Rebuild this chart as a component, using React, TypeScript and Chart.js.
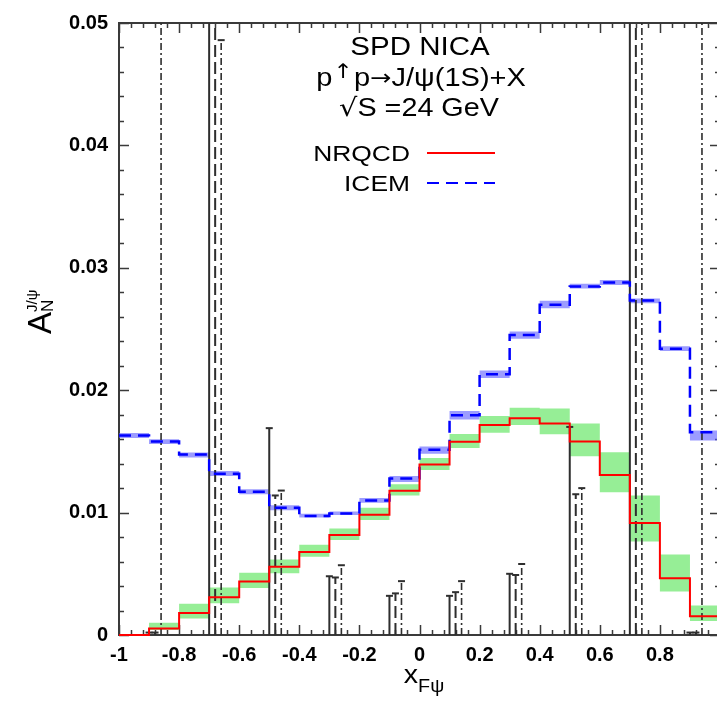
import React, { useEffect, useRef } from "react";
import { Chart, registerables } from "chart.js";

Chart.register(...registerables);

// ---------- data ----------
const binEdges = [-1, -0.9, -0.8, -0.7, -0.6, -0.5, -0.4, -0.3, -0.2, -0.1, 0, 0.1, 0.2, 0.3, 0.4, 0.5, 0.6, 0.7, 0.8, 0.9, 1];

const nrqcd = [0, 0.00053, 0.0018, 0.00308, 0.00437, 0.00557, 0.00678, 0.00817, 0.00983, 0.01179, 0.01393, 0.01578, 0.01715, 0.01771, 0.01728, 0.01581, 0.01308, 0.00916, 0.00464, 0.00153];
const nrqcdLow = [0, 0.0004, 0.00134, 0.0026, 0.00383, 0.00504, 0.0064, 0.00777, 0.0094, 0.01139, 0.01348, 0.01527, 0.01653, 0.01715, 0.0164, 0.0146, 0.01166, 0.00764, 0.00356, 0.00115];
const nrqcdHigh = [0, 0.001, 0.00255, 0.00388, 0.00509, 0.00617, 0.00737, 0.0087, 0.0104, 0.01232, 0.01447, 0.01642, 0.0179, 0.01857, 0.0185, 0.01728, 0.01493, 0.01139, 0.00657, 0.00241];

const icem = [0.0163, 0.0158, 0.01474, 0.01318, 0.01171, 0.0104, 0.00973, 0.00992, 0.01099, 0.01278, 0.01514, 0.01795, 0.0213, 0.0245, 0.02698, 0.02848, 0.0288, 0.02733, 0.02339, 0.01656];
const icemLow = [0.0161, 0.0156, 0.0145, 0.013, 0.0115, 0.0102, 0.0096, 0.0098, 0.0108, 0.0125, 0.0148, 0.0176, 0.021, 0.0242, 0.0267, 0.0283, 0.0286, 0.0271, 0.0232, 0.0159];
const icemHigh = [0.0165, 0.016, 0.0149, 0.0134, 0.0119, 0.0106, 0.0099, 0.0101, 0.0112, 0.013, 0.0154, 0.0183, 0.0216, 0.0248, 0.0273, 0.0287, 0.029, 0.0275, 0.0236, 0.0167];

const xSolid = [-0.9, -0.7, -0.5, -0.3, -0.1, 0.1, 0.3, 0.5, 0.7, 0.9];
const errSolid = [0.0002, 0.06, 0.0169, 0.0048, 0.0032, 0.0032, 0.005, 0.017, 0.06, 0.0002];
const xDashed = [-0.88, -0.68, -0.48, -0.28, -0.08, 0.12, 0.32, 0.52, 0.72, 0.92];
const errDashed = [0.0002, 0.06, 0.0114, 0.0047, 0.0034, 0.0035, 0.0049, 0.0115, 0.06, 0.0002];
const xDashDot = [-0.86, -0.66, -0.46, -0.26, -0.06, 0.14, 0.34, 0.54, 0.74, 0.94];
const errDashDot = [0.06, 0.0486, 0.0118, 0.0057, 0.0044, 0.0044, 0.0058, 0.012, 0.06, 0.06];

const titleLines = ["SPD NICA", "J/ψ(1S)+X", "S =24 GeV"];
const seriesNames = ["NRQCD", "ICEM"];

// ---------- styles ----------
const FONT = '"Liberation Sans", Arial, Helvetica, sans-serif';
const SYM = '"DejaVu Sans", sans-serif';
const RED = "#ff0000";
const BLUE = "#0000ff";
const GREEN_BAND = "rgb(150,238,150)";
const BLUE_BAND = "rgba(90,90,255,0.6)";
const BLACK = "#2e2e2e";
const DASHED = [12, 5];
const DASHDOT = [7, 3, 2, 3];

function steps(vals: number[]) {
  const pts = vals.map((v, i) => ({ x: binEdges[i], y: v }));
  pts.push({ x: binEdges[binEdges.length - 1], y: vals[vals.length - 1] });
  return pts;
}

function errPoints(xs: number[], tops: number[]) {
  const pts: { x: number; y: number | null }[] = [];
  xs.forEach((x, i) => {
    pts.push({ x, y: 0 });
    pts.push({ x, y: tops[i] });
    pts.push({ x, y: null });
  });
  return pts;
}

function errDataset(xs: number[], tops: number[], dash: number[], width: number) {
  return {
    data: errPoints(xs, tops),
    borderColor: BLACK,
    borderWidth: width,
    borderDash: dash,
    pointStyle: "line",
    pointRadius: (c: any) => (c.dataIndex % 3 === 1 ? 3.5 : 0),
    pointBorderColor: BLACK,
    pointBorderWidth: 2,
    pointBackgroundColor: BLACK,
    fill: false,
    spanGaps: false,
    order: 1,
  };
}

type Part = { t: string; size: number; dy?: number; dx?: number; family?: string };

function drawRich(ctx: CanvasRenderingContext2D, parts: Part[], align: "left" | "center" | "right", sx: number) {
  const widths = parts.map((p) => {
    ctx.font = `${p.size}px ${p.family || FONT}`;
    return ctx.measureText(p.t).width + (p.dx || 0);
  });
  const w = widths.reduce((a, b) => a + b, 0);
  ctx.save();
  ctx.scale(sx, 1);
  let cx = align === "center" ? -w / 2 : align === "right" ? -w : 0;
  ctx.textAlign = "left";
  ctx.textBaseline = "alphabetic";
  parts.forEach((p, i) => {
    ctx.font = `${p.size}px ${p.family || FONT}`;
    ctx.fillText(p.t, cx + (p.dx || 0), p.dy || 0);
    cx += widths[i];
  });
  ctx.restore();
}

const decorPlugin = {
  id: "decor",
  beforeDatasetsDraw(chart: any) {
    const { ctx, chartArea: a, scales } = chart;
    const xs = scales.x;
    const ys = scales.y;
    ctx.save();
    ctx.strokeStyle = "#3a3a3a";
    ctx.lineWidth = 2;
    ctx.strokeRect(a.left, a.top, a.right - a.left, a.bottom - a.top);
    ctx.lineWidth = 1.5;
    ctx.beginPath();
    for (let i = 0; i <= 50; i++) {
      const v = -1 + i * 0.04;
      const px = Math.round(xs.getPixelForValue(v)) + 0.5;
      const len = i % 5 === 0 ? 10 : 5;
      ctx.moveTo(px, a.bottom);
      ctx.lineTo(px, a.bottom - len);
      ctx.moveTo(px, a.top);
      ctx.lineTo(px, a.top + len);
    }
    for (let i = 0; i <= 25; i++) {
      const v = i * 0.002;
      const py = Math.round(ys.getPixelForValue(v)) + 0.5;
      const len = i % 5 === 0 ? 10 : 5;
      ctx.moveTo(a.left, py);
      ctx.lineTo(a.left + len, py);
      ctx.moveTo(a.right, py);
      ctx.lineTo(a.right - len, py);
    }
    ctx.stroke();
    ctx.restore();
  },
  afterDraw(chart: any) {
    const { ctx } = chart;
    ctx.save();
    ctx.fillStyle = "#000";
    // title block
    ctx.save();
    ctx.translate(420, 55);
    drawRich(ctx, [{ t: titleLines[0], size: 25 }], "center", 1.18);
    ctx.restore();
    ctx.save();
    ctx.translate(421, 86);
    drawRich(
      ctx,
      [
        { t: "p", size: 25 },
        { t: "↑", size: 20, dy: -8, dx: 1, family: SYM },
        { t: "p", size: 25, dx: 1 },
        { t: "→", size: 22, family: SYM, dy: -1 },
        { t: titleLines[1], size: 25 },
      ],
      "center",
      1.16
    );
    ctx.restore();
    ctx.save();
    ctx.translate(419, 116);
    drawRich(ctx, [{ t: "√", size: 25, family: SYM }, { t: titleLines[2], size: 25 }], "center", 1.15);
    ctx.restore();

    // legend
    ctx.save();
    ctx.translate(410, 161);
    drawRich(ctx, [{ t: seriesNames[0], size: 22 }], "right", 1.2);
    ctx.restore();
    ctx.save();
    ctx.translate(410, 191);
    drawRich(ctx, [{ t: seriesNames[1], size: 22 }], "right", 1.2);
    ctx.restore();
    ctx.lineWidth = 2;
    ctx.strokeStyle = RED;
    ctx.beginPath();
    ctx.moveTo(427, 153);
    ctx.lineTo(495, 153);
    ctx.stroke();
    ctx.strokeStyle = BLUE;
    ctx.lineWidth = 2.2;
    ctx.setLineDash([12, 7]);
    ctx.beginPath();
    ctx.moveTo(427, 183);
    ctx.lineTo(495, 183);
    ctx.stroke();
    ctx.setLineDash([]);

    // x axis title
    ctx.save();
    ctx.translate(424, 683);
    drawRich(ctx, [{ t: "x", size: 26 }, { t: "Fψ", size: 18, dy: 9, dx: 0 }], "center", 1.1);
    ctx.restore();

    // y axis title
    ctx.save();
    ctx.translate(51, 334);
    ctx.rotate(-Math.PI / 2);
    ctx.textBaseline = "alphabetic";
    ctx.font = `33px ${FONT}`;
    ctx.fillText("A", 0, 0);
    const aw = ctx.measureText("A").width;
    ctx.font = `17px ${FONT}`;
    ctx.fillText("N", aw, 2);
    ctx.font = `15px ${FONT}`;
    ctx.fillText("J/ψ", aw, -14);
    ctx.restore();

    ctx.restore();
  },
};

export default function App() {
  const ref = useRef<HTMLCanvasElement | null>(null);
  useEffect(() => {
    document.body.style.margin = "0";
    document.body.style.overflow = "hidden";
    const canvas = ref.current!;
    const chart = new Chart(canvas, {
      type: "line",
      data: {
        datasets: [
          { data: steps(nrqcd), borderColor: RED, borderWidth: 2, stepped: true, pointRadius: 0, fill: false, order: 0, clip: 3 } as any,
          { data: steps(icem), borderColor: BLUE, borderWidth: 2.5, borderDash: [12, 7], stepped: true, pointRadius: 0, fill: false, order: 0 } as any,
          errDataset(xSolid, errSolid, [], 2) as any,
          errDataset(xDashed, errDashed, DASHED, 2) as any,
          errDataset(xDashDot, errDashDot, DASHDOT, 1.6) as any,
          { data: steps(nrqcdLow), borderWidth: 0, stepped: true, pointRadius: 0, fill: false, order: 3 } as any,
          { data: steps(nrqcdHigh), borderWidth: 0, stepped: true, pointRadius: 0, fill: "-1", backgroundColor: GREEN_BAND, order: 3 } as any,
          { data: steps(icemLow), borderWidth: 0, stepped: true, pointRadius: 0, fill: false, order: 3 } as any,
          { data: steps(icemHigh), borderWidth: 0, stepped: true, pointRadius: 0, fill: "-1", backgroundColor: BLUE_BAND, order: 3 } as any,
        ],
      },
      options: {
        responsive: false,
        animation: false,
        devicePixelRatio: 1,
        layout: { padding: { left: 0, right: 10, top: 13, bottom: 0 } },
        plugins: { legend: { display: false }, tooltip: { enabled: false } },
        scales: {
          x: {
            type: "linear",
            min: -1,
            max: 1,
            grid: { display: false, drawTicks: false },
            border: { display: false },
            ticks: {
              stepSize: 0.2,
              padding: 8,
              color: "#000",
              font: { family: FONT, size: 20, weight: "bold" },
              maxRotation: 0,
              autoSkip: false,
              callback: (v: any) => {
                const r = Math.round(Number(v) * 10) / 10;
                return r >= 1 ? "" : String(r);
              },
            },
            afterFit: (s: any) => {
              s.height = 75;
            },
          },
          y: {
            min: 0,
            max: 0.05,
            grid: { display: false, drawTicks: false },
            border: { display: false },
            ticks: {
              stepSize: 0.01,
              padding: 11,
              color: "#000",
              font: { family: FONT, size: 20, weight: "bold" },
              callback: (v: any) => String(Math.round(Number(v) * 100) / 100),
            },
            afterFit: (s: any) => {
              s.width = 119;
            },
          },
        },
      },
      plugins: [decorPlugin],
    } as any);
    return () => chart.destroy();
  }, []);
  return (
    <div style={{ position: "fixed", left: 0, top: 0, width: 717, height: 710, overflow: "hidden", background: "#fff" }}>
      <canvas ref={ref} width={730} height={710} style={{ display: "block", width: 730, height: 710 }} />
    </div>
  );
}
